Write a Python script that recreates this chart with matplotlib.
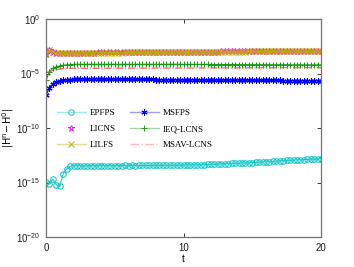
import numpy as np
import matplotlib.pyplot as plt
from matplotlib.lines import Line2D

plt.rcParams['mathtext.fontset'] = 'custom'
plt.rcParams['mathtext.rm'] = 'Liberation Sans'
plt.rcParams['mathtext.it'] = 'Liberation Sans'
plt.rcParams['mathtext.default'] = 'regular'

# temps : pas de 0.25 de 0 a 20
t = np.arange(0, 20.01, 0.25)

# log10 |H^n - H^0| (81 valeurs par courbe)
log_epfps = [-14.95, -15.1, -14.7, -15.2, -15.35, -14.2, -13.75, -13.5,
             -13.45, -13.46, -13.45, -13.47, -13.46, -13.45, -13.46, -13.45,
             -13.46, -13.45, -13.46, -13.45, -13.46, -13.45, -13.45, -13.44,
             -13.45, -13.44, -13.45, -13.44, -13.44, -13.43, -13.44, -13.43,
             -13.44, -13.43, -13.43, -13.42, -13.43, -13.42, -13.42, -13.41,
             -13.41, -13.40, -13.39, -13.38, -13.37, -13.36, -13.35, -13.34,
             -13.33, -13.32, -13.31, -13.29, -13.28, -13.27, -13.25, -13.24,
             -13.23, -13.21, -13.20, -13.18, -13.17, -13.15, -13.13, -13.11,
             -13.10, -13.08, -13.06, -13.04, -13.02, -13.00, -12.98, -12.96,
             -12.94, -12.93, -12.91, -12.90, -12.88, -12.87, -12.85, -12.84,
             -12.82]
log_licns = [-3.2, -2.85, -3.0, -3.1,
             -3.10, -3.10, -3.10, -3.09, -3.09, -3.09, -3.09, -3.08,
             -3.08, -3.08, -3.08, -3.07, -3.07, -3.07, -3.07, -3.06,
             -3.06, -3.06, -3.06, -3.05, -3.05, -3.05, -3.05, -3.04,
             -3.04, -3.04, -3.04, -3.03, -3.03, -3.03, -3.03, -3.02,
             -3.02, -3.02, -3.02, -3.01, -3.01, -3.01, -3.01, -3.00,
             -3.00, -3.00, -3.00, -2.99, -2.99, -2.99, -2.99, -2.98,
             -2.98, -2.98, -2.98, -2.97, -2.97, -2.97, -2.97, -2.96,
             -2.96, -2.96, -2.96, -2.95, -2.95, -2.95, -2.95, -2.94,
             -2.94, -2.94, -2.94, -2.94, -2.93, -2.93, -2.93, -2.93,
             -2.93, -2.93, -2.93, -2.92, -2.92]
log_lilfs = [-3.22, -2.88, -3.03, -3.12,
             -3.12, -3.12, -3.12, -3.11, -3.11, -3.11, -3.11, -3.10,
             -3.10, -3.10, -3.10, -3.09, -3.09, -3.09, -3.09, -3.08,
             -3.08, -3.08, -3.08, -3.07, -3.07, -3.07, -3.07, -3.06,
             -3.06, -3.06, -3.06, -3.05, -3.05, -3.05, -3.05, -3.04,
             -3.04, -3.04, -3.04, -3.03, -3.03, -3.03, -3.03, -3.02,
             -3.02, -3.02, -3.02, -3.01, -3.01, -3.01, -3.01, -3.00,
             -3.00, -3.00, -3.00, -2.99, -2.99, -2.99, -2.99, -2.98,
             -2.98, -2.98, -2.98, -2.97, -2.97, -2.97, -2.97, -2.96,
             -2.96, -2.96, -2.96, -2.96, -2.95, -2.95, -2.95, -2.95,
             -2.95, -2.95, -2.95, -2.94, -2.94]
log_msfps = [-7.0, -6.3, -5.95, -5.8, -5.7, -5.64, -5.6, -5.57,
             -5.55, -5.53, -5.52, -5.51, -5.51, -5.51, -5.51, -5.51,
             -5.52, -5.52, -5.52, -5.52, -5.53, -5.53, -5.53, -5.53,
             -5.54, -5.54, -5.54, -5.54, -5.55, -5.55, -5.55, -5.55,
             -5.56, -5.56, -5.56, -5.56, -5.57, -5.57, -5.57, -5.57,
             -5.58, -5.58, -5.58, -5.58, -5.59, -5.59, -5.59, -5.59,
             -5.60, -5.60, -5.60, -5.60, -5.61, -5.61, -5.61, -5.61,
             -5.62, -5.62, -5.62, -5.62, -5.63, -5.63, -5.63, -5.63,
             -5.64, -5.64, -5.64, -5.64, -5.64, -5.65, -5.65, -5.65,
             -5.65, -5.65, -5.65, -5.66, -5.66, -5.66, -5.66, -5.66,
             -5.66]
log_ieq = [-5.6, -4.85, -4.5, -4.38, -4.3, -4.25, -4.21, -4.19,
           -4.17, -4.16, -4.16, -4.16, -4.16, -4.16, -4.16, -4.16,
           -4.16, -4.16, -4.16, -4.16, -4.16, -4.16, -4.16, -4.16,
           -4.16, -4.16, -4.16, -4.16, -4.16, -4.16, -4.16, -4.16,
           -4.16, -4.16, -4.16, -4.16, -4.16, -4.16, -4.16, -4.16,
           -4.17, -4.17, -4.17, -4.17, -4.17, -4.17, -4.17, -4.17,
           -4.18, -4.18, -4.18, -4.18, -4.18, -4.18, -4.18, -4.18,
           -4.19, -4.19, -4.19, -4.19, -4.19, -4.19, -4.19, -4.19,
           -4.20, -4.20, -4.20, -4.20, -4.20, -4.20, -4.20, -4.20,
           -4.21, -4.21, -4.21, -4.21, -4.21, -4.21, -4.21, -4.21,
           -4.21]
log_msav = [-4.9, -4.85, -4.72, -4.64, -4.58, -4.55, -4.53, -4.52,
            -4.52, -4.52, -4.52, -4.52, -4.52, -4.52, -4.52, -4.52,
            -4.52, -4.52, -4.52, -4.52, -4.52, -4.51, -4.51, -4.51,
            -4.51, -4.51, -4.51, -4.51, -4.51, -4.51, -4.51, -4.51,
            -4.50, -4.50, -4.50, -4.50, -4.50, -4.50, -4.50, -4.50,
            -4.50, -4.50, -4.50, -4.50, -4.49, -4.49, -4.49, -4.49,
            -4.49, -4.49, -4.49, -4.49, -4.49, -4.49, -4.49, -4.49,
            -4.48, -4.48, -4.48, -4.48, -4.48, -4.48, -4.48, -4.48,
            -4.48, -4.48, -4.48, -4.48, -4.47, -4.47, -4.47, -4.47,
            -4.47, -4.47, -4.47, -4.47, -4.47, -4.47, -4.47, -4.47,
            -4.47]

noms = ['EPFPS', 'LICNS', 'LILFS', 'MSFPS', 'IEQ-LCNS', 'MSAV-LCNS']
series = [log_epfps, log_licns, log_lilfs, log_msfps, log_ieq, log_msav]
couleurs = [(0.1, 0.78, 0.78), (0.9, 0.1, 0.9), (0.75, 0.68, 0.0),
            (0.0, 0.0, 1.0), (0.1, 0.6, 0.1), (1.0, 0.3, 0.3)]
styles = ['-', 'none', '-', '-', '-', '-.']
marqueurs = ['o', '*', 'x', (6, 2, 0), '+', 'None']
tailles = [4.0, 4.5, 4.0, 4.5, 5.0, 0]

fig = plt.figure(figsize=(3.54, 2.67), dpi=100)
ax = fig.add_axes([46/354, 30/267, 275/354, 218/267])

for s, c, ls, m, ms in zip(series, couleurs, styles, marqueurs, tailles):
    ax.semilogy(t, 10.0**np.array(s), linestyle=ls, color=c, lw=0.8,
                marker=m, markersize=ms, markerfacecolor='none',
                markeredgecolor=c, markeredgewidth=0.8)

ax.set_xlim(0, 20)
ax.set_ylim(1e-20, 1e0)
ax.set_xticks([0, 10, 20])
ax.set_yticks([1e0, 1e-5, 1e-10, 1e-15, 1e-20])
ax.minorticks_off()
ax.tick_params(direction='in', top=True, right=True, length=3, width=0.6,
               labelsize=7, colors='0.1', pad=4)
for sp in ax.spines.values():
    sp.set_color('0.45')
    sp.set_linewidth(0.9)
for lab in ax.get_xticklabels() + ax.get_yticklabels():
    lab.set_family('Liberation Sans')

ax.set_xlabel('t', fontsize=7, family='Liberation Sans', labelpad=1)
ax.set_ylabel(r'$|H^n\!-\!H^0|$', fontsize=7, labelpad=0)

# legende avec des traits pales
poignees = []
for c, ls, m, ms in zip(couleurs, styles, marqueurs, tailles):
    poignees.append(Line2D([], [], linestyle=ls, color=c + (0.4,), lw=1.0,
                           marker=m, markersize=ms, markerfacecolor='none',
                           markeredgecolor=c, markeredgewidth=0.7))
leg = ax.legend(poignees, noms, ncol=2, frameon=False, loc='upper left',
                bbox_to_anchor=(0.01, 0.625),
                prop={'family': 'Liberation Serif', 'size': 6.5},
                handlelength=3.2, columnspacing=1.6, labelspacing=0.85,
                handletextpad=0.4)

fig.savefig('out.png', dpi=100)
